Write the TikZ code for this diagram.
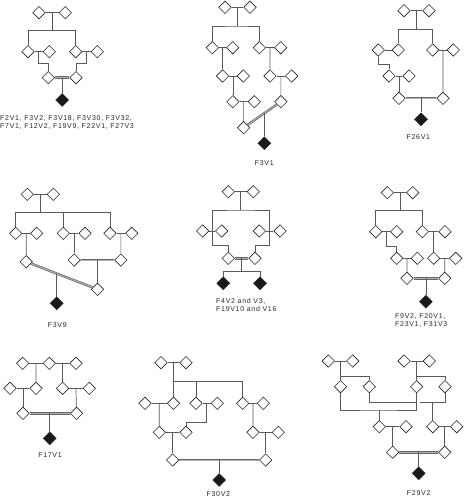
\documentclass[tikz,border=0pt]{standalone}
\usepackage{fontspec}
\setmainfont{Liberation Sans}[LetterSpace=10]
\usetikzlibrary{shapes.geometric,calc}
\tikzset{
  p/.style={diamond, draw=black!85, line width=0.6pt, minimum size=12.6pt, inner sep=0pt, aspect=1, fill=white},
  a/.style={p, fill=black!90, minimum size=13pt},
  ln/.style={draw=black!65, line width=0.7pt},
  cons/.style={draw=black!60, double=black!30, double distance=1pt, line width=0.7pt},
  lab/.style={font=\fontsize{7}{8}\selectfont, inner sep=0pt, text=black!85},
}
\begin{document}
\begin{tikzpicture}[x=1pt,y=-1pt]
\useasboundingbox (0,0) rectangle (465,500);
% ---------------- P1
\node[p] (a1) at (39,12.7) {};
\node[p] (a2) at (65.3,12.7) {};
\node[p] (a3) at (28,51.7) {};
\node[p] (a4) at (49.3,51.7) {};
\node[p] (a5) at (75.7,51.7) {};
\node[p] (a6) at (97.3,51.7) {};
\node[p] (a7) at (48.3,77.7) {};
\node[p] (a8) at (76,77.7) {};
\coordinate (a12) at ($(a1)!0.5!(a2)$);
\coordinate (sa) at ($(a12)+(0,18)$);
\coordinate (a34) at ($(a3)!0.5!(a4)$);
\coordinate (a56) at ($(a5)!0.5!(a6)$);
\coordinate (a78) at ($(a7)!0.5!(a8)$);
\node[a] (a9) at ($(a78)+(0,22.3)$) {};
\draw[ln] (a1) -- (a2); \draw[ln] (a12) -- (sa);
\draw[ln] (a3) |- (sa) -| (a5);
\draw[ln] (a3) -- (a4); \draw[ln] (a5) -- (a6);
\draw[ln] (a34) -- ++(0,11.3) -| (a7);
\draw[ln] (a56) -- ++(0,11.3) -| (a8);
\draw[cons] (a7) -- (a8);
\draw[ln] (a78) -- (a9);
\node[lab, align=left, anchor=north west] (ta) at (0,115.3) {F2V1, F3V2, F3V18, F3V30, F3V32,\\F7V1, F12V2, F19V9, F22V1, F27V3};
% ---------------- P2 F3V1
\node[p] (b1) at (225,7.3) {};
\node[p] (b2) at (250,7.3) {};
\node[p] (b3) at (212.3,47.7) {};
\node[p] (b4) at (232.7,47.7) {};
\node[p] (b5) at (259.3,47.7) {};
\node[p] (b6) at (280.7,47.7) {};
\node[p] (b7) at (222.5,76) {};
\node[p] (b8) at (243.3,76) {};
\node[p] (b9) at (232.9,101.7) {};
\node[p] (b10) at (254.3,101.7) {};
\node[p] (b11) at (243.6,127.7) {};
\node[p] (b12) at (270,76) {};
\node[p] (b13) at (291.7,76) {};
\node[p] (b14) at (280.85,101.7) {};
\coordinate (bm12) at ($(b1)!0.5!(b2)$);
\coordinate (sb) at ($(bm12)+(0,18.7)$);
\coordinate (bm34) at ($(b3)!0.5!(b4)$);
\coordinate (bm78) at ($(b7)!0.5!(b8)$);
\coordinate (bm910) at ($(b9)!0.5!(b10)$);
\coordinate (bm56) at ($(b5)!0.5!(b6)$);
\coordinate (bm1213) at ($(b12)!0.5!(b13)$);
\coordinate (bx) at ($(b11)!0.556!(b14)$);
\node[a] (b15) at ($(bx)+(0,30)$) {};
\draw[ln] (b1) -- (b2); \draw[ln] (bm12) -- (sb);
\draw[ln] (b3) |- (sb) -| (b5);
\draw[ln] (b3) -- (b4); \draw[ln] (b7) -- (b8); \draw[ln] (b9) -- (b10);
\draw[ln] (b5) -- (b6); \draw[ln] (b12) -- (b13);
\draw[ln] (bm34) -- (b7); \draw[ln] (bm78) -- (b9); \draw[ln] (bm910) -- (b11);
\draw[ln] (bm56) -- (b12); \draw[ln] (bm1213) -- (b14);
\draw[cons] (b11) -- (b14);
\draw[ln] (bx) -- (b15);
\node[lab] (tb) at (264.3,163.3) {F3V1};
% ---------------- P3 F26V1
\node[p] (c1) at (404,10.7) {};
\node[p] (c2) at (429,10.7) {};
\node[p] (c3) at (398.3,50) {};
\node[p] (c4) at (378.3,50) {};
\node[p] (c5) at (432.7,50) {};
\node[p] (c6) at (453.3,50) {};
\node[p] (c7) at (389,76) {};
\node[p] (c8) at (409,76) {};
\node[p] (c9) at (399,98.3) {};
\node[p] (c10) at (443,98.3) {};
\coordinate (cm12) at ($(c1)!0.5!(c2)$);
\coordinate (sc) at ($(cm12)+(0,18.6)$);
\coordinate (cm78) at ($(c7)!0.5!(c8)$);
\coordinate (cm56) at ($(c5)!0.5!(c6)$);
\coordinate (cm910) at ($(c9)!0.5!(c10)$);
\node[a] (c11) at ($(cm910)+(0,21)$) {};
\draw[ln] (c1) -- (c2); \draw[ln] (cm12) -- (sc);
\draw[ln] (c3) |- (sc) -| (c5);
\draw[ln] (c4) -- (c3); \draw[ln] (c5) -- (c6); \draw[ln] (c7) -- (c8);
\draw[ln] (c4) -- ++(0,14) -| (c7);
\draw[ln] (cm78) -- (c9);
\draw[ln] (cm56) -- (c10);
\draw[cons] (c9) -- (c10);
\draw[ln] (cm910) -- (c11);
\node[lab] (tc) at (418.3,136.7) {F26V1};
% ---------------- P4 F3V9
\node[p] (d1) at (27.3,194.3) {};
\node[p] (d2) at (53.3,194.3) {};
\node[p] (d3) at (15.7,233.3) {};
\node[p] (d4) at (36.7,233.3) {};
\node[p] (d5) at (63.3,233.3) {};
\node[p] (d6) at (85,233.3) {};
\node[p] (d7) at (110,233.3) {};
\node[p] (d8) at (131.7,233.3) {};
\node[p] (d9) at (26.2,261.7) {};
\node[p] (d10) at (74.15,260) {};
\node[p] (d11) at (120.85,260) {};
\coordinate (dm12) at ($(d1)!0.5!(d2)$);
\coordinate (sd) at ($(dm12)+(0,18.4)$);
\coordinate (dm34) at ($(d3)!0.5!(d4)$);
\coordinate (dm56) at ($(d5)!0.5!(d6)$);
\coordinate (dm78) at ($(d7)!0.5!(d8)$);
\coordinate (dm1011) at ($(d10)!0.5!(d11)$);
\node[p] (d13) at ($(dm1011)+(0,29.3)$) {};
\coordinate (dx) at ($(d9)!0.428!(d13)$);
\node[a] (d14) at ($(dx)+(0,29.8)$) {};
\draw[ln] (d1) -- (d2); \draw[ln] (dm12) -- (sd);
\draw[ln] (d3) |- (sd) -| (d7);
\draw[ln] (d5) -- (d5 |- sd);
\draw[ln] (d3) -- (d4); \draw[ln] (d5) -- (d6); \draw[ln] (d7) -- (d8);
\draw[ln] (dm34) -- (d9); \draw[ln] (dm56) -- (d10); \draw[ln] (dm78) -- (d11);
\draw[cons] (d10) -- (d11);
\draw[ln] (dm1011) -- (d13);
\draw[cons] (d9) -- (d13);
\draw[ln] (dx) -- (d14);
\node[lab] (td) at (57.3,325) {F3V9};
% ---------------- P5 F4V2
\node[p] (e1) at (228.3,191.7) {};
\node[p] (e2) at (253.3,191.7) {};
\node[p] (e3) at (202.7,231) {};
\node[p] (e4) at (221.7,231) {};
\node[p] (e5) at (259.3,231) {};
\node[p] (e6) at (280,231) {};
\node[p] (e7) at (228.3,258.3) {};
\node[p] (e8) at (255,258.3) {};
\coordinate (em12) at ($(e1)!0.5!(e2)$);
\coordinate (se) at ($(em12)+(0,18.3)$);
\coordinate (em34) at ($(e3)!0.5!(e4)$);
\coordinate (em56) at ($(e5)!0.5!(e6)$);
\coordinate (em78) at ($(e7)!0.5!(e8)$);
\coordinate (se2) at ($(em78)+(0,13.4)$);
\node[a] (e9) at (223.3,283.3) {};
\node[a] (e10) at (260,283.3) {};
\draw[ln] (e1) -- (e2); \draw[ln] (em12) -- (se);
\draw[ln] (em34) |- (se) -| (em56);
\draw[ln] (e3) -- (e4); \draw[ln] (e5) -- (e6);
\draw[ln] (em34) -- ++(0,14.5) -| (e7);
\draw[ln] (em56) -- ++(0,14.5) -| (e8);
\draw[cons] (e7) -- (e8);
\draw[ln] (em78) -- (se2);
\draw[ln] (e9) |- (se2) -| (e10);
\node[lab, align=left, anchor=north west] (te) at (216,298.7) {F4V2 and V3,\\F19V10 and V16};
% ---------------- P6 F9V2
\node[p] (f1) at (387.3,192.7) {};
\node[p] (f2) at (412.7,192.7) {};
\node[p] (f3) at (375.7,231.7) {};
\node[p] (f4) at (396.7,231.7) {};
\node[p] (f5) at (422.3,231.7) {};
\node[p] (f6) at (445,231.7) {};
\node[p] (f7) at (396.7,258.3) {};
\node[p] (f8) at (417.3,258.3) {};
\node[p] (f9) at (407,278.3) {};
\node[p] (f10) at (433.65,258.3) {};
\node[p] (f11) at (455.7,258.3) {};
\node[p] (f12) at (444.7,278.3) {};
\coordinate (fm12) at ($(f1)!0.5!(f2)$);
\coordinate (sf) at ($(fm12)+(0,18)$);
\coordinate (fm34) at ($(f3)!0.5!(f4)$);
\coordinate (fm56) at ($(f5)!0.5!(f6)$);
\coordinate (fm78) at ($(f7)!0.5!(f8)$);
\coordinate (fm1011) at ($(f10)!0.5!(f11)$);
\coordinate (fm912) at ($(f9)!0.5!(f12)$);
\node[a] (f13) at ($(fm912)+(0,23.4)$) {};
\draw[ln] (f1) -- (f2); \draw[ln] (fm12) -- (sf);
\draw[ln] (f3) |- (sf) -| (f5);
\draw[ln] (f3) -- (f4); \draw[ln] (f5) -- (f6);
\draw[ln] (f7) -- (f8); \draw[ln] (f10) -- (f11);
\draw[ln] (fm34) -- ++(0,15) -| (f7);
\draw[ln] (fm78) -- (f9);
\draw[ln] (fm56) -- (f10);
\draw[ln] (fm1011) -- (f12);
\draw[cons] (f9) -- (f12);
\draw[ln] (fm912) -- (f13);
\node[lab, align=left, anchor=north west] (tf) at (395,313.7) {F9V2, F20V1,\\F23V1, F31V3};
% ---------------- P7 F17V1
\node[p] (g1) at (22.7,363.3) {};
\node[p] (g2) at (49.3,363.3) {};
\node[p] (g3) at (76,363.3) {};
\node[p] (g4) at (10,388.3) {};
\node[p] (g5) at (36,388.3) {};
\node[p] (g6) at (62.65,388.3) {};
\node[p] (g7) at (89.3,388.3) {};
\node[p] (g8) at (23,413.3) {};
\node[p] (g9) at (76.5,413.3) {};
\coordinate (gm12) at ($(g1)!0.5!(g2)$);
\coordinate (gm23) at ($(g2)!0.5!(g3)$);
\coordinate (gm45) at ($(g4)!0.5!(g5)$);
\coordinate (gm67) at ($(g6)!0.5!(g7)$);
\coordinate (gm89) at ($(g8)!0.5!(g9)$);
\node[a] (g10) at ($(gm89)+(0,25)$) {};
\draw[ln] (g1) -- (g2); \draw[ln] (g2) -- (g3);
\draw[ln] (gm12) -- (g5); \draw[ln] (gm23) -- (g6);
\draw[ln] (g4) -- (g5); \draw[ln] (g6) -- (g7);
\draw[ln] (gm45) -- (g8); \draw[ln] (gm67) -- (g9);
\draw[cons] (g8) -- (g9);
\draw[ln] (gm89) -- (g10);
\node[lab] (tg) at (50,455) {F17V1};
% ---------------- P8 F30V2
\node[p] (h1) at (161,362.7) {};
\node[p] (h2) at (186,362.7) {};
\node[p] (h3) at (145,403.3) {};
\node[p] (h4) at (173.5,403.3) {};
\node[p] (h5) at (196,403.3) {};
\node[p] (h6) at (217.3,403.3) {};
\node[p] (h7) at (242.7,403.3) {};
\node[p] (h8) at (263.3,403.3) {};
\node[p] (h9) at (159.3,432.3) {};
\node[p] (h10) at (186,432.3) {};
\node[p] (h11) at (253,432.3) {};
\node[p] (h12) at (278.3,432.3) {};
\coordinate (hm12) at ($(h1)!0.5!(h2)$);
\coordinate (sh) at ($(hm12)+(0,19)$);
\coordinate (hm34) at ($(h3)!0.5!(h4)$);
\coordinate (hm56) at ($(h5)!0.5!(h6)$);
\coordinate (hm78) at ($(h7)!0.5!(h8)$);
\coordinate (hm910) at ($(h9)!0.5!(h10)$);
\coordinate (hm1112) at ($(h11)!0.5!(h12)$);
\node[p] (h13) at ($(hm910)+(0,27.7)$) {};
\node[p] (h14) at ($(hm1112)+(0,27.7)$) {};
\coordinate (hm1314) at ($(h13)!0.5!(h14)$);
\node[a] (h15) at ($(hm1314)+(0,20)$) {};
\draw[ln] (h1) -- (h2); \draw[ln] (hm12) -- (h4);
\draw[ln] (sh) -| (h7);
\draw[ln] (h5) -- (h5 |- sh);
\draw[ln] (h3) -- (h4); \draw[ln] (h5) -- (h6); \draw[ln] (h7) -- (h8);
\draw[ln] (h9) -- (h10); \draw[ln] (h11) -- (h12);
\draw[ln] (hm34) -- (h9);
\draw[ln] (hm56) -- ++(0,19) -| (h10);
\draw[ln] (hm78) -- (h11);
\draw[ln] (hm910) -- (h13);
\draw[ln] (hm1112) -- (h14);
\draw[cons] (h13) -- (h14);
\draw[ln] (hm1314) -- (h15);
\node[lab] (th) at (218.3,494) {F30V2};
% ---------------- P9 F29V2
\node[p] (i1) at (328.3,361) {};
\node[p] (i2) at (352.7,361) {};
\node[p] (i3) at (340.5,386.7) {};
\node[p] (i4) at (369.3,386.7) {};
\node[p] (i5) at (404,361) {};
\node[p] (i6) at (429.3,361) {};
\node[p] (i7) at (416.65,386.7) {};
\node[p] (i8) at (445,386.7) {};
\coordinate (im12) at ($(i1)!0.5!(i2)$);
\coordinate (si) at ($(im12)+(0,15.7)$);
\coordinate (im56) at ($(i5)!0.5!(i6)$);
\coordinate (si2) at ($(im56)+(0,15.7)$);
\coordinate (j1) at (379.3,410);
\coordinate (k1) at (416.65,402.3);
\coordinate (k2) at (419.6,402.3);
\coordinate (k3) at (432.7,402.3);
\node[p] (i9) at (379.3,426.7) {};
\node[p] (i10) at (406,426.7) {};
\node[p] (i11) at (432.7,426.7) {};
\node[p] (i12) at (456.7,426.7) {};
\coordinate (im910) at ($(i9)!0.5!(i10)$);
\coordinate (im1112) at ($(i11)!0.5!(i12)$);
\node[p] (i13) at ($(im910)+(0,25.6)$) {};
\node[p] (i14) at ($(im1112)+(0,25.6)$) {};
\coordinate (im1314) at ($(i13)!0.5!(i14)$);
\node[a] (i15) at ($(im1314)+(0,21)$) {};
\draw[ln] (i1) -- (i2); \draw[ln] (im12) -- (i3);
\draw[ln] (si) -| (i4);
\draw[ln] (i5) -- (i6); \draw[ln] (im56) -- (i7);
\draw[ln] (si2) -| (i8);
\draw[ln] (i3) |- (j1) -| (i7);
\draw[ln] (i4) |- (k1);
\draw[ln] (k2) -| (i8);
\draw[ln] (j1) -- (i9);
\draw[ln] (k3) -- (i11);
\draw[ln] (i9) -- (i10); \draw[ln] (i11) -- (i12);
\draw[ln] (im910) -- (i13);
\draw[ln] (im1112) -- (i14);
\draw[cons] (i13) -- (i14);
\draw[ln] (im1314) -- (i15);
\node[lab] (ti) at (418.7,493) {F29V2};
\end{tikzpicture}
\end{document}
